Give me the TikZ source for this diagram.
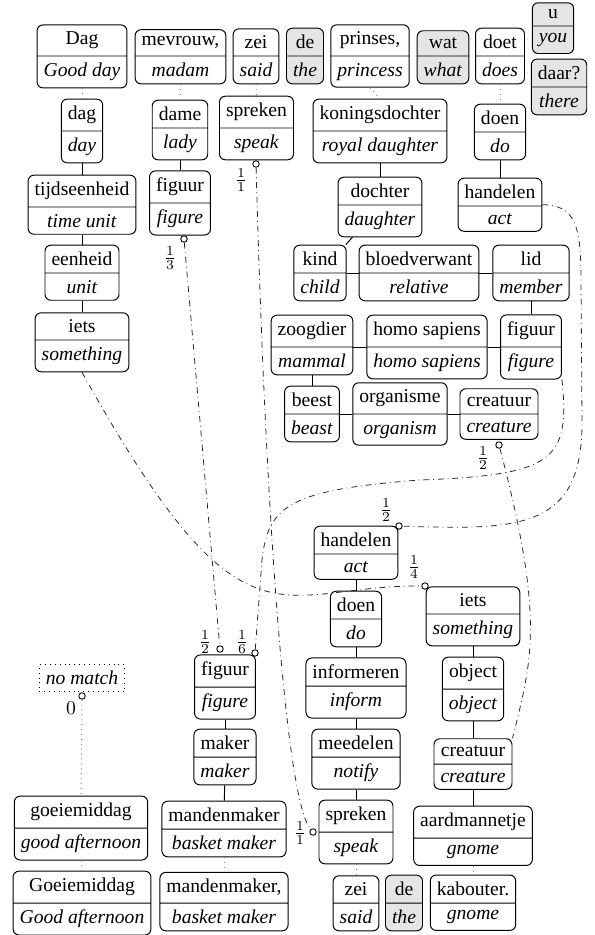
\documentclass[tikz,border=0pt]{standalone}
\usepackage{fontspec}
\setmainfont{Liberation Serif}
\usetikzlibrary{shapes.multipart}
\begin{document}
\begin{tikzpicture}[x=0.5102pt,y=-0.5102pt,
  w/.style={rectangle split, rectangle split parts=2, draw, rounded corners=3pt,
    inner xsep=3.33pt, inner ysep=3.33pt, line width=0.5pt, anchor=text split},
  g/.style={w, fill=gray!20},
  tie/.style={line width=0.5pt},
  syn/.style={dotted, gray, line width=0.5pt},
  lnk/.style={dash dot, line width=0.4pt, black!85},
  port/.style={circle, draw, fill=white, inner sep=0pt, minimum size=3.3pt, line width=0.45pt},
  wt/.style={inner sep=0pt}
]
\useasboundingbox (0,0) rectangle (595,935);

% ---------- first sentence ----------
\node[w] (Dag) at (82,56) {Dag\nodepart{two}\textit{Good day}};
\node[w] (mev) at (180.5,56) {mevrouw,\nodepart{two}\textit{madam}};
\node[w] (zeiA) at (256,56) {zei\nodepart{two}\textit{said}};
\node[g] (deA) at (305,56) {de\nodepart{two}\textit{the}};
\node[w] (prin) at (370,56) {prinses,\nodepart{two}\textit{princess}};
\node[g] (wat) at (443,56) {wat\nodepart{two}\textit{what}};
\node[w] (doet) at (500,56) {doet\nodepart{two}\textit{does}};
\node[g] (u) at (553,26) {u\nodepart{two}\textit{you}};
\node[g] (daar) at (559,87) {daar?\nodepart{two}\textit{there}};

% ---------- upper hierarchies ----------
\node[w] (dag) at (82,131) {dag\nodepart{two}\textit{day}};
\node[w] (tijd) at (82,207) {tijdseenheid\nodepart{two}\textit{time unit}};
\node[w] (eenh) at (82,273) {eenheid\nodepart{two}\textit{unit}};
\node[w] (ietsA) at (82,340) {iets\nodepart{two}\textit{something}};

\node[w] (dame) at (180,128) {dame\nodepart{two}\textit{lady}};
\node[w] (figA) at (180,203) {figuur\nodepart{two}\textit{figure}};

\node[w] (sprA) at (256.5,128) {spreken\nodepart{two}\textit{speak}};

\node[w] (kon) at (380,131) {koningsdochter\nodepart{two}\textit{royal daughter}};
\node[w] (doch) at (380,205) {dochter\nodepart{two}\textit{daughter}};
\node[w] (kind) at (320,273) {kind\nodepart{two}\textit{child}};
\node[w] (bloed) at (419,273) {bloedverwant\nodepart{two}\textit{relative}};
\node[w] (lid) at (531,273) {lid\nodepart{two}\textit{member}};
\node[w] (zoog) at (312,347) {zoogdier\nodepart{two}\textit{mammal}};
\node[w] (homo) at (427,347) {homo sapiens\nodepart{two}\textit{homo sapiens}};
\node[w] (figR) at (531,347) {figuur\nodepart{two}\textit{figure}};
\node[w] (beest) at (312,414) {beest\nodepart{two}\textit{beast}};
\node[w] (org) at (400,414) {organisme\nodepart{two}\textit{organism}};
\node[w] (creaA) at (499,414) {creatuur\nodepart{two}\textit{creature}};

\node[w] (doenA) at (500,132) {doen\nodepart{two}\textit{do}};
\node[w] (handA) at (500,206) {handelen\nodepart{two}\textit{act}};

% ---------- lower hierarchies ----------
\node[w] (handB) at (356,554) {handelen\nodepart{two}\textit{act}};
\node[w] (doenB) at (356,619) {doen\nodepart{two}\textit{do}};
\node[w] (inf) at (356,686) {informeren\nodepart{two}\textit{inform}};
\node[w] (meed) at (356,757) {meedelen\nodepart{two}\textit{notify}};
\node[w] (sprB) at (356,832) {spreken\nodepart{two}\textit{speak}};

\node[w] (ietsB) at (473,614) {iets\nodepart{two}\textit{something}};
\node[w] (obj) at (473,689) {object\nodepart{two}\textit{object}};
\node[w] (creaB) at (473,764) {creatuur\nodepart{two}\textit{creature}};
\node[w] (aard) at (473,838) {aardmannetje\nodepart{two}\textit{gnome}};

\node[w] (figB) at (225,687) {figuur\nodepart{two}\textit{figure}};
\node[w] (maker) at (225,757) {maker\nodepart{two}\textit{maker}};
\node[w] (mand) at (224,829) {mandenmaker\nodepart{two}\textit{basket maker}};

\node[w] (goei) at (81,828) {goeiemiddag\nodepart{two}\textit{good afternoon}};
\node[draw, dotted, line width=0.5pt, inner sep=3.33pt] (nom) at (82,678) {\textit{no match}};

% ---------- second sentence ----------
\node[w] (Goei) at (82,903) {Goeiemiddag\nodepart{two}\textit{Good afternoon}};
\node[w] (mand2) at (224,903) {mandenmaker,\nodepart{two}\textit{basket maker}};
\node[w] (zeiB) at (356,903) {zei\nodepart{two}\textit{said}};
\node[g] (deB) at (404,903) {de\nodepart{two}\textit{the}};
\node[w] (kab) at (473,903) {kabouter.\nodepart{two}\textit{gnome}};

% ---------- word-to-sense links (dotted) ----------
\draw[syn] (Dag.south) -- (dag.north);
\draw[syn] (mev.south) -- (dame.north);
\draw[syn] (zeiA.south) -- (sprA.north);
\draw[syn] (prin.south) -- (kon.north);
\draw[syn] (doet.south) -- (doenA.north);
\draw[syn] (goei.south) -- (Goei.north);
\draw[syn] (mand.south) -- (mand2.north);
\draw[syn] (sprB.south) -- (zeiB.north);
\draw[syn] (aard.south) -- (kab.north);

% ---------- hypernym links (solid) ----------
\draw[tie] (dag) -- (tijd);
\draw[tie] (tijd) -- (eenh);
\draw[tie] (eenh) -- (ietsA);
\draw[tie] (dame) -- (figA);
\draw[tie] (kon) -- (doch);
\draw[tie] (doch) -- (kind);
\draw[tie] (kind.text split east) -- (bloed.text split west);
\draw[tie] (bloed.text split east) -- (lid.text split west);
\draw[tie] (lid) -- (figR);
\draw[tie] (zoog.text split east) -- (homo.text split west);
\draw[tie] (homo.text split east) -- (figR.text split west);
\draw[tie] (zoog) -- (beest);
\draw[tie] (beest.text split east) -- (org.text split west);
\draw[tie] (org.text split east) -- (creaA.text split west);
\draw[tie] (doenA) -- (handA);
\draw[tie] (handB) -- (doenB);
\draw[tie] (doenB) -- (inf);
\draw[tie] (inf) -- (meed);
\draw[tie] (meed) -- (sprB);
\draw[tie] (ietsB) -- (obj);
\draw[tie] (obj) -- (creaB);
\draw[tie] (creaB) -- (aard);
\draw[tie] (figB) -- (maker);
\draw[tie] (maker) -- (mand);

% ---------- ports ----------
\node[port] (pSprA) at (256,164) {};
\node[port] (pFigA) at (184,239) {};
\node[port] (pCreaA) at (499,445) {};
\node[port] (pHandB) at (399,526) {};
\node[port] (pIetsB) at (425,586) {};
\node[port] (pFigB1) at (220,649) {};
\node[port] (pFigB2) at (255,653) {};
\node[port] (pSprB) at (313,832) {};
\node[port] (pNom) at (82,696) {};

% ---------- cross links (dash dot) ----------
\draw[lnk] (ietsA.south) .. controls (245,665) and (275,585) .. (pIetsB);
\draw[lnk] (pFigA) -- (pFigB1);
\draw[lnk] (pSprA) .. controls (265,500) and (285,800) .. (pSprB);
\draw[lnk] (pCreaA) .. controls (545,620) and (532,660) .. (creaB.north east);
\draw[lnk] (handA.east) .. controls (575,205) and (581,225) .. (581,280) -- (582,420)
   .. controls (583,530) and (520,530) .. (pHandB);
\draw[lnk] (figR.south east) .. controls (570,460) and (555,475) .. (420,480)
   .. controls (290,490) and (268,505) .. (262,560) -- (pFigB2);
\draw[syn] (pNom) -- (goei.north);

% ---------- weights ----------
\node[wt] (l1) at (241,180) {$\frac{1}{1}$};
\node[wt] (l2) at (170,258) {$\frac{1}{3}$};
\node[wt] (l3) at (483,458) {$\frac{1}{2}$};
\node[wt] (l4) at (386,510) {$\frac{1}{2}$};
\node[wt] (l5) at (414,567) {$\frac{1}{4}$};
\node[wt] (l6) at (205,642) {$\frac{1}{2}$};
\node[wt] (l7) at (242,642) {$\frac{1}{6}$};
\node[wt] (l8) at (300,833) {$\frac{1}{1}$};
\node[wt] (l9) at (71,708) {$0$};
\end{tikzpicture}
\end{document}
